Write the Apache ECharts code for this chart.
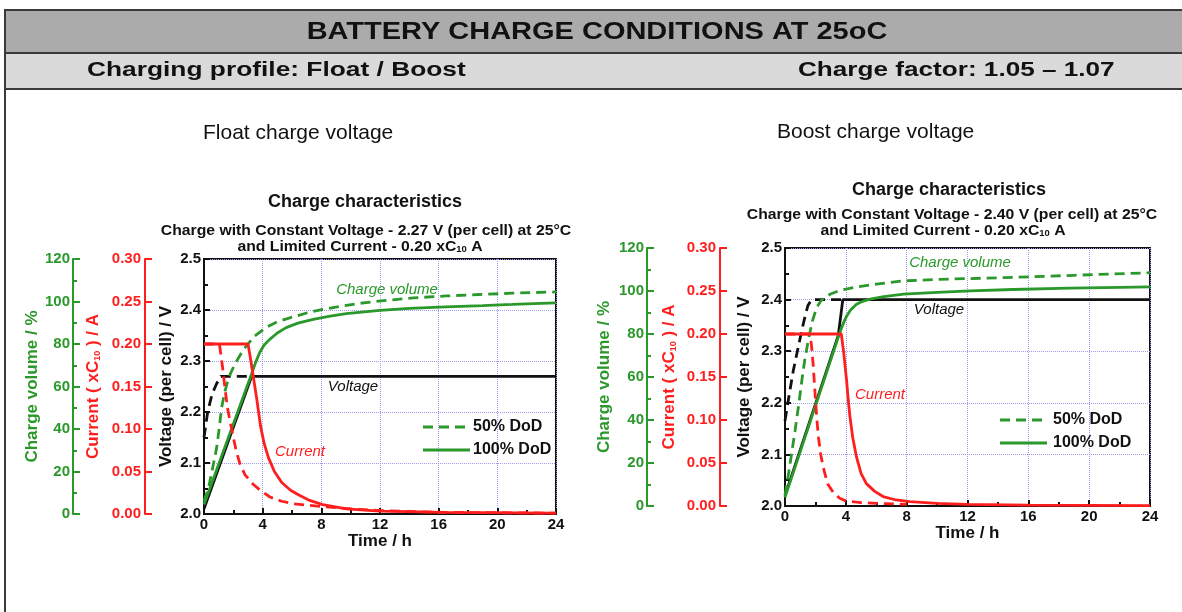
<!DOCTYPE html>
<html>
<head>
<meta charset="utf-8">
<title>Battery charge conditions</title>
<script src="https://cdn.jsdelivr.net/npm/echarts@6/dist/echarts.min.js"></script>
<style>
  html, body { margin: 0; padding: 0; background: #fff; }
  #chart { width: 1182px; height: 612px; }
</style>
</head>
<body>
<div id="chart"></div>
<script>
// ---- data: [time h, value] ----
// float charge, 2.27 V per cell
const floatVoltage100 = [[0, 2.01], [3.25, 2.27], [24, 2.27]]
const floatVoltage50 = [[0, 2.15], [0.25, 2.2], [0.55, 2.235], [0.85, 2.255], [1.15, 2.27], [3.25, 2.27]]
const floatCurrent100 = [[0, 0.2], [3.0, 0.2], [3.15, 0.185], [3.35, 0.163], [3.6, 0.135], [3.85, 0.104], [4.1, 0.083], [4.4, 0.066], [4.8, 0.05], [5.3, 0.037], [5.9, 0.028], [6.5, 0.022], [7.2, 0.016], [8.1, 0.011], [9.7, 0.006], [12, 0.0035], [16.5, 0.002], [24, 0.001]]
const floatCurrent50 = [[0, 0.2], [1.05, 0.2], [1.15, 0.188], [1.3, 0.168], [1.45, 0.145], [1.6, 0.125], [1.8, 0.107], [2.0, 0.09], [2.2, 0.074], [2.45, 0.059], [2.8, 0.046], [3.35, 0.035], [3.9, 0.027], [4.5, 0.02], [5.3, 0.015], [6.1, 0.012], [7.9, 0.009], [10, 0.006], [12, 0.004], [16, 0.002], [24, 0.001]]
const floatCharge100 = [[0, 4.5], [3.25, 66], [3.5, 71], [3.8, 76], [4.1, 79.5], [4.5, 82.3], [5.0, 85.2], [5.6, 87.7], [6.4, 89.8], [7.45, 91.6], [8.5, 93], [9.7, 94.3], [12, 95.8], [14, 96.8], [16.5, 97.5], [19, 98.1], [21, 98.6], [24, 99.4]]
const floatCharge50 = [[0, 6], [0.3, 12], [0.6, 22], [0.86, 31], [1.05, 41], [1.2, 50], [1.4, 57], [1.6, 62], [1.8, 66], [2.1, 70.5], [2.4, 74], [2.7, 77.5], [3.0, 80], [3.4, 83.5], [4.3, 88], [5.0, 90.5], [5.9, 92.4], [7.0, 94.6], [8.1, 96.3], [9.5, 98], [10.9, 99.4], [12.5, 100.6], [14.3, 101.7], [16.5, 102.6], [18.8, 103.3], [21, 103.9], [24, 104.5]]

// boost charge, 2.40 V per cell
const boostVoltage100 = [[0, 2.02], [3.5, 2.33], [3.8, 2.4], [24, 2.4]]
const boostVoltage50 = [[0, 2.165], [0.3, 2.22], [0.55, 2.263], [0.85, 2.305], [1.1, 2.34], [1.3, 2.365], [1.5, 2.388], [1.75, 2.4], [3.8, 2.4]]
const boostCurrent100 = [[0, 0.2], [3.7, 0.2], [3.85, 0.18], [4.05, 0.146], [4.15, 0.125], [4.27, 0.104], [4.45, 0.08], [4.7, 0.057], [5.0, 0.038], [5.35, 0.026], [5.9, 0.017], [6.45, 0.011], [7.3, 0.007], [8.2, 0.005], [10, 0.003], [12, 0.002], [16, 0.001], [24, 0.0005]]
const boostCurrent50 = [[0, 0.2], [1.65, 0.2], [1.75, 0.185], [1.85, 0.165], [2.0, 0.125], [2.1, 0.1], [2.2, 0.08], [2.35, 0.06], [2.5, 0.046], [2.8, 0.026], [3.2, 0.015], [3.6, 0.009], [4, 0.006], [5, 0.004], [6, 0.003], [8, 0.002]]
const boostCharge100 = [[0, 4], [3.5, 78.5], [3.7, 82.5], [3.9, 86], [4.05, 88.3], [4.3, 91], [4.7, 93.8], [5.1, 95.2], [5.6, 96.2], [6.5, 97.4], [7.8, 98.5], [10, 99.4], [12.2, 100.1], [15, 100.7], [18.7, 101.3], [21, 101.6], [24, 101.9]]
const boostCharge50 = [[0, 5], [0.3, 18], [0.66, 35], [0.9, 47], [1.1, 58], [1.3, 68], [1.53, 77], [1.8, 86], [2.08, 92.3], [2.4, 95.8], [2.96, 98.5], [3.6, 100.3], [4.5, 101.6], [6, 103.2], [7.8, 104.7], [10, 105.4], [14.4, 106.2], [19, 107.3], [24, 108.5]]

// axis ranges
const timeRange = [0, 24, 4]
const voltageRange = [2.0, 2.5, 0.1]
const currentRange = [0, 0.3, 0.05]
const chargeRange = [0, 120, 20]

const FONT = "'Liberation Sans', Arial, Helvetica, sans-serif"
const GREEN = '#2a982a'
const RED = '#ff1e1e'
const BLACK = '#111111'
const GRIDLINE = '#9c9cf0'

const chart = echarts.init(document.getElementById('chart'))

const xAxisFor = (gridIndex) => ({
  type: 'value',
  gridIndex,
  min: timeRange[0],
  max: timeRange[1],
  interval: timeRange[2],
  name: 'Time / h',
  nameLocation: 'middle',
  nameGap: 17,
  nameTextStyle: { color: BLACK, fontWeight: 'bold', fontSize: 17 },
  axisLine: { lineStyle: { color: BLACK, width: 2 } },
  axisTick: { inside: true, length: 6, lineStyle: { color: BLACK, width: 2 } },
  minorTick: { show: true, splitNumber: 2, length: 4, lineStyle: { color: BLACK, width: 2 } },
  axisLabel: { color: BLACK, fontWeight: 'bold', fontSize: 15, margin: 3 },
  splitLine: { show: true, lineStyle: { color: GRIDLINE, type: 'dotted', width: 1 } },
})

const yAxesFor = (gridIndex, redOffset, greenOffset, gaps) => [
  {
    type: 'value',
    gridIndex,
    position: 'left',
    min: voltageRange[0],
    max: voltageRange[1],
    interval: voltageRange[2],
    name: 'Voltage (per cell) / V',
    nameLocation: 'middle',
    nameGap: gaps[0],
    nameTextStyle: { color: BLACK, fontWeight: 'bold', fontSize: 17 },
    axisLine: { show: true, lineStyle: { color: BLACK, width: 2 } },
    axisTick: { show: true, inside: true, length: 6, lineStyle: { color: BLACK, width: 2 } },
    minorTick: { show: true, splitNumber: 2, length: 4, lineStyle: { color: BLACK, width: 2 } },
    axisLabel: { color: BLACK, fontWeight: 'bold', fontSize: 15, margin: 3, formatter: (v) => v.toFixed(1) },
    splitLine: { show: true, lineStyle: { color: GRIDLINE, type: 'dotted', width: 1 } },
  },
  {
    type: 'value',
    gridIndex,
    position: 'left',
    offset: redOffset,
    min: currentRange[0],
    max: currentRange[1],
    interval: currentRange[2],
    name: 'Current ( xC{s|10} ) / A',
    nameLocation: 'middle',
    nameGap: gaps[1],
    nameTextStyle: {
      color: RED, fontWeight: 'bold', fontSize: 17,
      rich: { s: { color: RED, fontWeight: 'bold', fontSize: 9, verticalAlign: 'bottom', padding: [6, 0, 0, 0] } },
    },
    axisLine: { show: true, lineStyle: { color: RED, width: 2 } },
    axisTick: { show: true, inside: true, length: 7, lineStyle: { color: RED, width: 2 } },
    axisLabel: { color: RED, fontWeight: 'bold', fontSize: 15, margin: 4, formatter: (v) => v.toFixed(2) },
    splitLine: { show: false },
  },
  {
    type: 'value',
    gridIndex,
    position: 'left',
    offset: greenOffset,
    min: chargeRange[0],
    max: chargeRange[1],
    interval: chargeRange[2],
    name: 'Charge volume / %',
    nameLocation: 'middle',
    nameGap: gaps[2],
    nameTextStyle: { color: GREEN, fontWeight: 'bold', fontSize: 17 },
    axisLine: { show: true, lineStyle: { color: GREEN, width: 2 } },
    axisTick: { show: true, inside: true, length: 7, lineStyle: { color: GREEN, width: 2 } },
    minorTick: { show: true, splitNumber: 2, length: 4, lineStyle: { color: GREEN, width: 2 } },
    axisLabel: { color: GREEN, fontWeight: 'bold', fontSize: 15, margin: 3 },
    splitLine: { show: false },
  },
]

const line = (name, data, xi, yi, color, dashed) => ({
  name,
  type: 'line',
  xAxisIndex: xi,
  yAxisIndex: yi,
  data,
  symbol: 'none',
  showSymbol: false,
  smooth: false,
  silent: true,
  lineStyle: { color, width: 2.8, type: dashed ? [10, 6] : 'solid', cap: 'butt' },
})

const text = (x, y, str, opts = {}) => ({
  type: 'text',
  x,
  y,
  z: 100,
  scaleX: opts.scaleX || 1,
  style: {
    text: str,
    fill: opts.color || BLACK,
    fontFamily: FONT,
    fontSize: opts.size || 14,
    fontWeight: opts.bold ? 'bold' : 'normal',
    fontStyle: opts.italic ? 'italic' : 'normal',
    align: opts.align || 'center',
    textAlign: opts.align || 'center',
    verticalAlign: 'middle',
    textVerticalAlign: 'middle',
    rich: opts.rich,
  },
})

const sub = { s: { fontFamily: FONT, fontSize: 9, fontWeight: 'bold', fill: BLACK, verticalAlign: 'bottom', padding: [6, 0, 0, 0] } }

const legendLine = (x1, x2, y, dashed) => ({
  type: 'line',
  z: 100,
  shape: { x1, y1: y, x2, y2: y },
  style: { stroke: GREEN, lineWidth: 2.8, lineDash: dashed ? [10, 6] : null },
})

const option = {
  animation: false,
  textStyle: { fontFamily: FONT },
  grid: [
    { left: 204, top: 259, width: 352, height: 255, show: true, borderColor: BLACK, borderWidth: 2, outerBoundsMode: 'none' },
    { left: 785, top: 248, width: 365, height: 258, show: true, borderColor: BLACK, borderWidth: 2, outerBoundsMode: 'none' },
  ],
  xAxis: [xAxisFor(0), xAxisFor(1)],
  yAxis: [
    ...yAxesFor(0, 59, 131, [29, 43, 32]),
    ...yAxesFor(1, 65, 138, [32, 42, 34]),
  ],
  series: [
    line('Voltage 100% DoD', floatVoltage100, 0, 0, BLACK, false),
    line('Voltage 50% DoD', floatVoltage50, 0, 0, BLACK, true),
    line('Charge 100% DoD', floatCharge100, 0, 2, GREEN, false),
    line('Charge 50% DoD', floatCharge50, 0, 2, GREEN, true),
    line('Current 100% DoD', floatCurrent100, 0, 1, RED, false),
    line('Current 50% DoD', floatCurrent50, 0, 1, RED, true),

    line('Voltage 100% DoD', boostVoltage100, 1, 3, BLACK, false),
    line('Voltage 50% DoD', boostVoltage50, 1, 3, BLACK, true),
    line('Charge 100% DoD', boostCharge100, 1, 5, GREEN, false),
    line('Charge 50% DoD', boostCharge50, 1, 5, GREEN, true),
    line('Current 100% DoD', boostCurrent100, 1, 4, RED, false),
    line('Current 50% DoD', boostCurrent50, 1, 4, RED, true),
  ],
  graphic: [
    // header bands
    { type: 'rect', z: 1, shape: { x: 5, y: 10, width: 1200, height: 43 }, style: { fill: '#ababab', stroke: '#3a3a3a', lineWidth: 2 } },
    { type: 'rect', z: 1, shape: { x: 5, y: 53, width: 1200, height: 36 }, style: { fill: '#dadada', stroke: '#3a3a3a', lineWidth: 2 } },
    { type: 'line', z: 1, shape: { x1: 5, y1: 89, x2: 5, y2: 640 }, style: { stroke: '#3a3a3a', lineWidth: 2 } },
    text(597, 33, 'BATTERY CHARGE CONDITIONS AT 25oC', { size: 23, bold: true, scaleX: 1.26 }),
    text(87, 71, 'Charging profile: Float / Boost', { size: 19.5, bold: true, align: 'left', scaleX: 1.35 }),
    text(798, 71, 'Charge factor: 1.05 \u2013 1.07', { size: 19.5, bold: true, align: 'left', scaleX: 1.34 }),

    text(203, 133, 'Float charge voltage', { size: 21, align: 'left' }),
    text(777, 132, 'Boost charge voltage', { size: 21, align: 'left' }),

    // chart titles
    text(365, 202, 'Charge characteristics', { size: 18, bold: true }),
    text(366, 231, 'Charge with Constant Voltage - 2.27 V (per cell) at 25\u00b0C', { size: 15, bold: true, scaleX: 1.05 }),
    text(360, 247, 'and Limited Current - 0.20 xC{s|10} A', { size: 15, bold: true, scaleX: 1.05, rich: sub }),
    text(949, 190, 'Charge characteristics', { size: 18, bold: true }),
    text(952, 215, 'Charge with Constant Voltage - 2.40 V (per cell) at 25\u00b0C', { size: 15, bold: true, scaleX: 1.05 }),
    text(943, 231, 'and Limited Current - 0.20 xC{s|10} A', { size: 15, bold: true, scaleX: 1.05, rich: sub }),

    // curve labels
    text(387, 290, 'Charge volume', { italic: true, color: GREEN, size: 15 }),
    text(353, 387, 'Voltage', { italic: true, size: 15 }),
    text(300, 452, 'Current', { italic: true, color: RED, size: 15 }),
    text(960, 263, 'Charge volume', { italic: true, color: GREEN, size: 15 }),
    text(939, 310, 'Voltage', { italic: true, size: 15 }),
    text(880, 395, 'Current', { italic: true, color: RED, size: 15 }),

    // in-plot legends
    legendLine(423, 470, 427, true),
    text(473, 427, '50% DoD', { bold: true, size: 16, align: 'left' }),
    legendLine(423, 470, 450, false),
    text(473, 450, '100% DoD', { bold: true, size: 16, align: 'left' }),
    legendLine(1000, 1047, 420, true),
    text(1053, 420, '50% DoD', { bold: true, size: 16, align: 'left' }),
    legendLine(1000, 1047, 443, false),
    text(1053, 443, '100% DoD', { bold: true, size: 16, align: 'left' }),
  ],
}

chart.setOption(option)
window.addEventListener('resize', () => chart.resize())
</script>
</body>
</html>
